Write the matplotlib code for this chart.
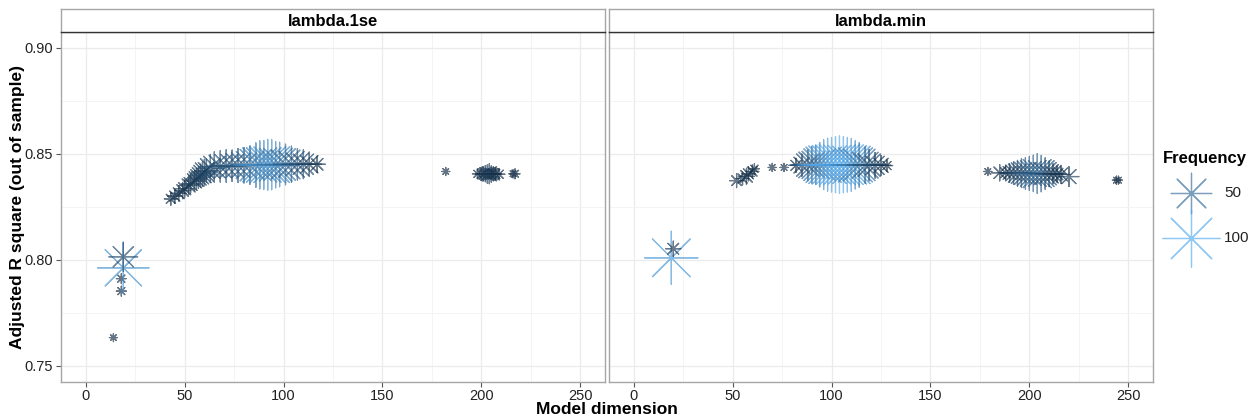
import matplotlib
matplotlib.use("Agg")
import matplotlib.pyplot as plt
from matplotlib.markers import MarkerStyle
from matplotlib.colors import LinearSegmentedColormap, Normalize

plt.rcParams['font.family'] = ['Liberation Sans', 'DejaVu Sans']

panels = ["lambda.1se", "lambda.min"]

# ---- lambda.1se ----
dim_1se = [14, 18, 18, 19, 19,
           43, 45, 47, 49, 50, 52, 53, 55, 56, 57, 58, 59, 60, 61,
           63, 65, 68, 71, 74, 77, 80, 83, 86, 88, 90, 92, 94, 96, 98,
           101, 104, 107, 110, 113, 117,
           182, 198, 200, 201, 202, 203, 204, 205, 206, 207, 209, 216, 217]
r2_1se = [0.7633, 0.7852, 0.7911, 0.7962, 0.8014,
          0.8287, 0.8300, 0.8313, 0.8326, 0.8335, 0.8350, 0.8357,
          0.8372, 0.8380, 0.8388, 0.8396, 0.8404, 0.8413, 0.8420,
          0.8430, 0.8437, 0.8440, 0.8442, 0.8443, 0.8444, 0.8445, 0.8446,
          0.8446, 0.8447, 0.8447, 0.8448, 0.8448, 0.8448, 0.8449,
          0.8449, 0.8450, 0.8450, 0.8450, 0.8450, 0.8450,
          0.8416, 0.8405, 0.8404, 0.8405, 0.8406, 0.8404, 0.8405, 0.8404,
          0.8405, 0.8404, 0.8403, 0.8405, 0.8405]
freq_1se = [2, 3, 3, 80, 25,
            5, 6, 7, 8, 9, 10, 10, 12, 13, 14, 16, 18, 20, 16,
            24, 28, 30, 32, 30, 35, 38, 45, 60, 70, 72, 78, 76, 65, 60,
            50, 40, 30, 25, 18, 8,
            2, 3, 4, 6, 8, 10, 12, 8, 6, 5, 4, 2, 3]

# ---- lambda.min ----
dim_min = [19, 20,
           52, 55, 57, 58, 60, 61, 70, 76,
           82, 85, 88, 90, 92, 94, 96, 98, 100, 102, 104, 106, 108, 110,
           112, 114, 117, 119, 122, 125, 128,
           179, 185, 188, 190, 192, 194, 196, 198, 200, 202, 204, 206, 208,
           210, 212, 214, 216, 220, 244, 245]
r2_min = [0.8009, 0.8052,
          0.8373, 0.8383, 0.8393, 0.8405, 0.8416, 0.8429, 0.8435, 0.8435,
          0.8445, 0.8446, 0.8446, 0.8447, 0.8447, 0.8448, 0.8448, 0.8448,
          0.8448, 0.8448, 0.8448, 0.8448, 0.8448, 0.8447, 0.8447, 0.8447,
          0.8446, 0.8446, 0.8445, 0.8445, 0.8444,
          0.8416, 0.8410, 0.8410, 0.8409, 0.8409, 0.8408, 0.8408, 0.8407,
          0.8407, 0.8407, 0.8406, 0.8406, 0.8406, 0.8405, 0.8405, 0.8404,
          0.8402, 0.8392, 0.8375, 0.8375]
freq_min = [86, 7,
            6, 5, 8, 6, 5, 3, 2, 2,
            6, 15, 30, 40, 45, 60, 75, 85, 90, 95, 100, 95, 90, 85,
            70, 60, 40, 30, 20, 12, 4,
            2, 8, 6, 10, 15, 20, 25, 30, 35, 40, 48, 40, 30,
            20, 12, 8, 10, 12, 2, 2]

data = {
    "lambda.1se": (dim_1se, r2_1se, freq_1se),
    "lambda.min": (dim_min, r2_min, freq_min),
}

legend_breaks = [50, 100]

cmap = LinearSegmentedColormap.from_list("freq", ["#132B43", "#56B1F7"])
norm = Normalize(1, 105)
star = MarkerStyle((8, 2, 0))
ALPHA = 0.65


def area(f):
    # marker area proportional to frequency
    return 17.06 * f


W, H = 1258, 420
fig = plt.figure(figsize=(W / 100, H / 100), dpi=100)


def box(x0, y0, x1, y1):
    return [x0 / W, 1 - y1 / H, (x1 - x0) / W, (y1 - y0) / H]


panel_px = [(61, 605), (609, 1153)]
top, bottom, strip_top = 31.7, 381.7, 9.3
border = "#A6A6A6"

for i, name in enumerate(panels):
    x0, x1 = panel_px[i]
    ax = fig.add_axes(box(x0, top, x1, bottom))
    dims, r2, fr = data[name]
    ax.scatter(dims, r2, s=[area(f) for f in fr], c=fr, cmap=cmap, norm=norm,
               marker=star, linewidths=0.9, alpha=ALPHA, zorder=3)
    ax.set_xlim(-12.5, 262.5)
    ax.set_ylim(0.7425, 0.9075)
    ax.set_xticks([0, 50, 100, 150, 200, 250])
    ax.set_xticks([25, 75, 125, 175, 225], minor=True)
    ax.set_yticks([0.75, 0.80, 0.85, 0.90])
    ax.set_yticks([0.775, 0.825, 0.875], minor=True)
    ax.grid(which="major", color="#EBEBEB", linewidth=0.9, zorder=0)
    ax.grid(which="minor", color="#F3F3F3", linewidth=0.6, zorder=0)
    ax.set_axisbelow(True)
    for sp in ax.spines.values():
        sp.set_color(border)
        sp.set_linewidth(1.0)
    ax.tick_params(which="minor", length=0)
    ax.tick_params(which="major", length=3.5, color="#555555", width=0.8,
                   labelsize=10.5, labelcolor="#222222", pad=2)
    if i == 0:
        ax.set_yticklabels(["0.75", "0.80", "0.85", "0.90"])
    else:
        ax.tick_params(axis="y", left=False, labelleft=False)

    # facet strip
    sax = fig.add_axes(box(x0, strip_top, x1, top))
    sax.set_xticks([])
    sax.set_yticks([])
    sax.set_facecolor("white")
    for sp in sax.spines.values():
        sp.set_color(border)
        sp.set_linewidth(1.0)
    sax.spines["bottom"].set_color("#333333")
    sax.text(0.5, 0.47, name, ha="center", va="center", fontsize=12,
             fontweight="bold", transform=sax.transAxes)

fig.text(607 / W, 1 - 410 / H, "Model dimension", ha="center", va="center",
         fontsize=12.5, fontweight="bold")
fig.text(18 / W, 1 - 206.7 / H, "Adjusted R square (out of sample)",
         ha="center", va="center", rotation=90, fontsize=12.5,
         fontweight="bold")

# Frequency legend
lax = fig.add_axes(box(1158, 140, 1258, 280))
lax.set_xlim(1158, 1258)
lax.set_ylim(280, 140)
lax.axis("off")
lax.text(1205, 159, "Frequency", ha="center", va="center", fontsize=12,
         fontweight="bold")
for yk, f in zip([193, 238], legend_breaks):
    lax.scatter([1191], [yk], s=area(f), c=[f], cmap=cmap, norm=norm,
                marker=star, linewidths=0.9, alpha=ALPHA, clip_on=False)
    lax.text(1224, yk, str(f), ha="left", va="center", fontsize=11,
             color="#222222")

fig.savefig("out.png", dpi=100)
